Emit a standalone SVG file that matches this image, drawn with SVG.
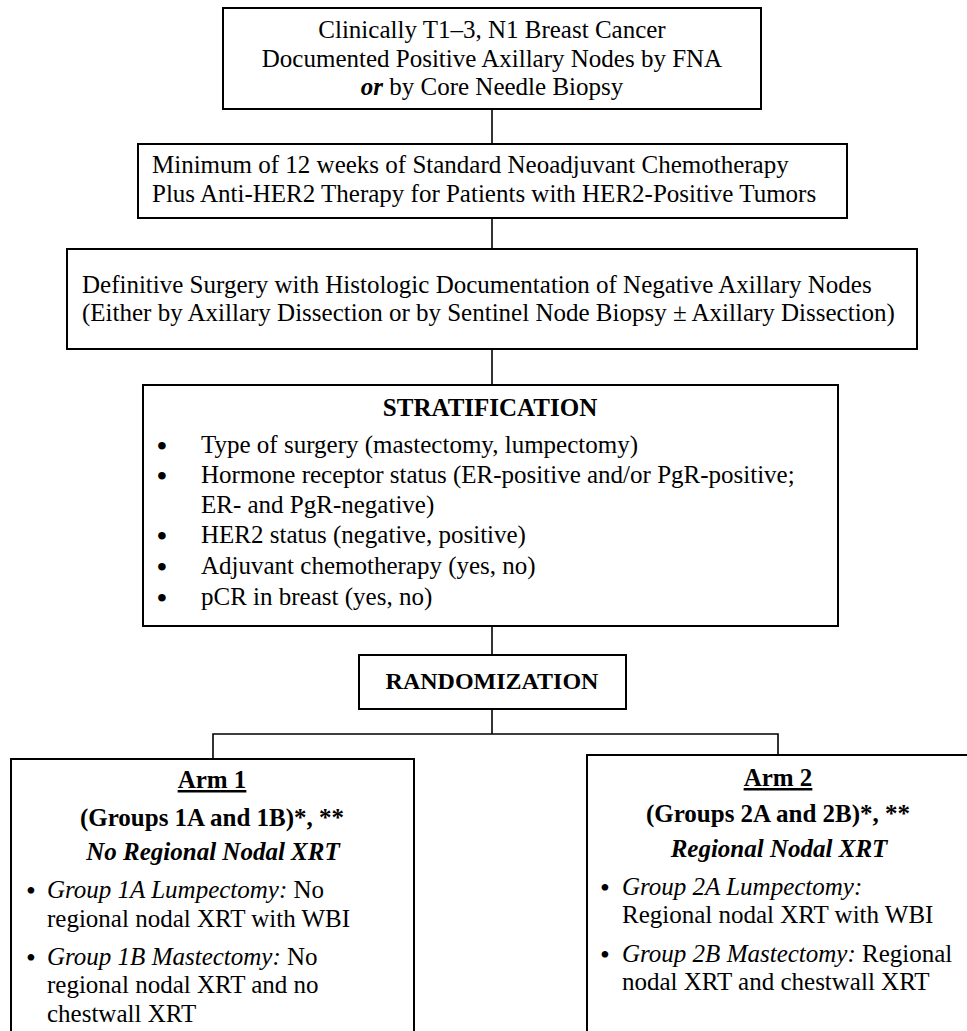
<svg xmlns="http://www.w3.org/2000/svg" width="967" height="1031" viewBox="0 0 967 1031">
  <style>
    .box { fill: #fff; stroke: #000; stroke-width: 2; }
    .wire { fill: none; stroke: #000; stroke-width: 1.6; }
    text { font-family: "Liberation Serif", "Times New Roman", serif; font-size: 25px; fill: #000; }
    .c { text-anchor: middle; }
    .b { font-weight: bold; }
    .i { font-style: italic; }
    .bi { font-weight: bold; font-style: italic; }
    .u { text-decoration: underline; }
    .dot { text-anchor: middle; font-size: 28px; font-weight: bold; }
    .sdot { text-anchor: middle; font-size: 28px; }
  </style>
  <rect width="967" height="1031" fill="#fff"/>

  <!-- connectors -->
  <g id="connectors">
    <line class="wire" x1="492" y1="109" x2="492" y2="144"/>
    <line class="wire" x1="492" y1="218" x2="492" y2="249"/>
    <line class="wire" x1="492" y1="349" x2="492" y2="385"/>
    <line class="wire" x1="492" y1="626" x2="492" y2="655"/>
    <line class="wire" x1="492" y1="709" x2="492" y2="734"/>
    <polyline class="wire" points="213,759 213,734 778,734 778,755"/>
  </g>

  <!-- eligibility -->
  <g id="eligibility">
    <rect class="box" x="223" y="8" width="538" height="101"/>
    <text class="c" x="492" y="38">Clinically T1–3, N1 Breast Cancer</text>
    <text class="c" x="492" y="67">Documented Positive Axillary Nodes by FNA</text>
    <text class="c" x="492" y="95"><tspan class="bi">or</tspan> by Core Needle Biopsy</text>
  </g>

  <!-- neoadjuvant therapy -->
  <g id="neoadjuvant">
    <rect class="box" x="138" y="144" width="709" height="74"/>
    <text x="152" y="173">Minimum of 12 weeks of Standard Neoadjuvant Chemotherapy</text>
    <text x="152" y="202">Plus Anti-HER2 Therapy for Patients with HER2-Positive Tumors</text>
  </g>

  <!-- surgery -->
  <g id="surgery">
    <rect class="box" x="67" y="249" width="850" height="100"/>
    <text x="82" y="293">Definitive Surgery with Histologic Documentation of Negative Axillary Nodes</text>
    <text x="82" y="321">(Either by Axillary Dissection or by Sentinel Node Biopsy ± Axillary Dissection)</text>
  </g>

  <!-- stratification -->
  <g id="stratification">
    <rect class="box" x="143" y="385" width="695" height="241"/>
    <text class="c b" x="490" y="416">STRATIFICATION</text>
    <text class="dot" x="162" y="455">•</text>
    <text x="201" y="453">Type of surgery (mastectomy, lumpectomy)</text>
    <text class="dot" x="162" y="485">•</text>
    <text x="201" y="483">Hormone receptor status (ER-positive and/or PgR-positive;</text>
    <text x="201" y="513">ER- and PgR-negative)</text>
    <text class="dot" x="162" y="545">•</text>
    <text x="201" y="543">HER2 status (negative, positive)</text>
    <text class="dot" x="162" y="576">•</text>
    <text x="201" y="574">Adjuvant chemotherapy (yes, no)</text>
    <text class="dot" x="162" y="607">•</text>
    <text x="201" y="605">pCR in breast (yes, no)</text>
  </g>

  <!-- randomization -->
  <g id="randomization">
    <rect class="box" x="359" y="655" width="267" height="54"/>
    <text class="c b" x="492" y="689" style="font-size:24px">RANDOMIZATION</text>
  </g>

  <!-- arm 1 -->
  <g id="arm1">
    <rect class="box" x="11" y="759" width="403" height="300"/>
    <text class="c b u" x="212" y="788">Arm 1</text>
    <text class="c b" x="212" y="826">(Groups 1A and 1B)*, **</text>
    <text class="c bi" x="213" y="860">No Regional Nodal XRT</text>
    <text class="sdot" x="31" y="900">•</text>
    <text x="47" y="898"><tspan class="i">Group 1A Lumpectomy:</tspan> No</text>
    <text x="47" y="927">regional nodal XRT with WBI</text>
    <text class="sdot" x="31" y="967">•</text>
    <text x="47" y="965"><tspan class="i">Group 1B Mastectomy:</tspan> No</text>
    <text x="47" y="993">regional nodal XRT and no</text>
    <text x="47" y="1022">chestwall XRT</text>
  </g>

  <!-- arm 2 -->
  <g id="arm2">
    <rect class="box" x="587" y="755" width="400" height="300"/>
    <text class="c b u" x="778" y="786">Arm 2</text>
    <text class="c b" x="778" y="822">(Groups 2A and 2B)*, **</text>
    <text class="c bi" x="779" y="857">Regional Nodal XRT</text>
    <text class="sdot" x="605" y="897">•</text>
    <text x="622" y="895"><tspan class="i">Group 2A Lumpectomy:</tspan></text>
    <text x="622" y="923">Regional nodal XRT with WBI</text>
    <text class="sdot" x="605" y="964">•</text>
    <text x="622" y="962"><tspan class="i">Group 2B Mastectomy:</tspan> Regional</text>
    <text x="622" y="990">nodal XRT and chestwall XRT</text>
  </g>
</svg>
